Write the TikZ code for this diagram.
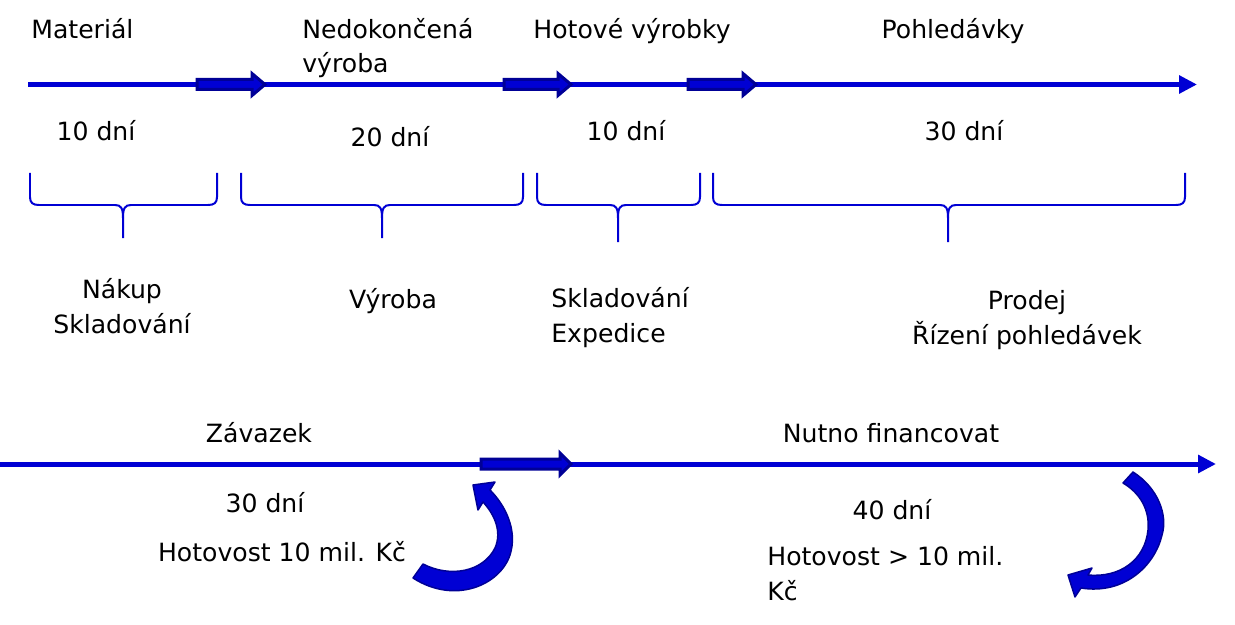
\documentclass[tikz,border=0pt]{standalone}
\usepackage{fontspec}
\setmainfont{DejaVu Sans}
\usetikzlibrary{arrows.meta}
\definecolor{lineblue}{RGB}{0,0,212}
\definecolor{navy}{RGB}{0,0,150}
\newcommand\blockarr[4]{%
  \filldraw[blockarrow] (#1,#3-5) -- (#2-#4,#3-5) -- (#2-#4,#3-11) -- (#2,#3) -- (#2-#4,#3+11) -- (#2-#4,#3+5) -- (#1,#3+5) -- cycle;}
\newcommand\curlybr[4]{% x1, x2, cx, tip y
  \draw[brace] (#1,173) -- (#1,197) .. controls (#1,203) and (#1+3,205) .. (#1+9,205) -- (#3-8,205) .. controls (#3-2,205) and (#3,208) .. (#3,218) -- (#3,#4);
  \draw[brace] (#2,173) -- (#2,197) .. controls (#2,203) and (#2-3,205) .. (#2-9,205) -- (#3+8,205) .. controls (#3+2,205) and (#3,208) .. (#3,218);}
\begin{document}
\begin{tikzpicture}[x=0.02cm,y=-0.02cm,
  every node/.style={inner sep=0pt,font=\fontsize{14.3pt}{17pt}\selectfont,text=black},
  mainline/.style={draw=lineblue,line width=0.1cm,-{Triangle[length=0.36cm,width=0.35cm]}},
  blockarrow/.style={fill=lineblue,draw=navy,line width=0.06cm,line join=miter},
  brace/.style={draw=lineblue,line width=0.04cm},
  curvearrow/.style={fill=lineblue,draw=navy,line width=0.03cm,line join=round}]
\useasboundingbox (0,0) rectangle (1235,625);

% main lines
\coordinate (topL) at (28,84.5);
\coordinate (topR) at (1197,84.5);
\coordinate (botL) at (0,464);
\coordinate (botR) at (1216,464);
\draw[mainline] (topL) -- (topR);
\draw[mainline] (botL) -- (botR);

% block arrows
\blockarr{197}{265}{84.5}{13}
\blockarr{504}{571}{84.5}{13}
\blockarr{688}{756}{84.5}{13}
\blockarr{481}{571}{464}{11}

% braces
\curlybr{30}{217}{123}{238}
\curlybr{241}{523}{382}{238}
\curlybr{537}{700}{618}{242}
\curlybr{713}{1185}{948}{242}

% curved arrows
\filldraw[curvearrow] (413,578) -- (423,564) .. controls (450,578) and (483,572) .. (495,548)
  .. controls (502,532) and (495,515) .. (483,502) -- (478,510) -- (473,485) -- (495,482) -- (490,490)
  .. controls (505,505) and (518,530) .. (510,555) .. controls (500,585) and (455,605) .. (413,578) -- cycle;
\filldraw[curvearrow] (1123,483) -- (1133,472) .. controls (1158,488) and (1168,515) .. (1162,535)
  .. controls (1155,565) and (1125,595) .. (1081,588) -- (1075,597) -- (1068,575) -- (1092,568) -- (1088,575)
  .. controls (1120,578) and (1145,560) .. (1148,530) .. controls (1150,510) and (1140,493) .. (1123,483) -- cycle;

% top labels
\node[anchor=base west] (mat) at (31,39) {Materiál};
\node[anchor=base west] (ned1) at (302,39) {Nedokončená};
\node[anchor=base west] (ned2) at (302,73) {výroba};
\node[anchor=base] (hot) at (632,39) {Hotové výrobky};
\node[anchor=base] (pohl) at (953,39) {Pohledávky};

% durations
\node[anchor=base] (d1) at (96,141) {10 dní};
\node[anchor=base] (d2) at (390,147) {20 dní};
\node[anchor=base] (d3) at (626,141) {10 dní};
\node[anchor=base] (d4) at (964,141) {30 dní};

% activities
\node[anchor=base] (a1a) at (122,298) {Nákup};
\node[anchor=base] (a1b) at (122,333) {Skladování};
\node[anchor=base] (a2) at (393,308) {Výroba};
\node[anchor=base west] (a3a) at (551,307) {Skladování};
\node[anchor=base west] (a3b) at (551,342) {Expedice};
\node[anchor=base] (a4a) at (1027,309) {Prodej};
\node[anchor=base] (a4b) at (1027,344) {Řízení pohledávek};

% bottom labels
\node[anchor=base] (zav) at (259,442) {Závazek};
\node[anchor=base] (nut) at (891,442) {Nutno financovat};
\node[anchor=base] (d5) at (265,512) {30 dní};
\node[anchor=base] (h1) at (282,561) {Hotovost 10 mil. Kč};
\node[anchor=base] (d6) at (892,519) {40 dní};
\node[anchor=base west] (h2a) at (767,565) {Hotovost > 10 mil.};
\node[anchor=base west] (h2b) at (767,600) {Kč};
\end{tikzpicture}
\end{document}
